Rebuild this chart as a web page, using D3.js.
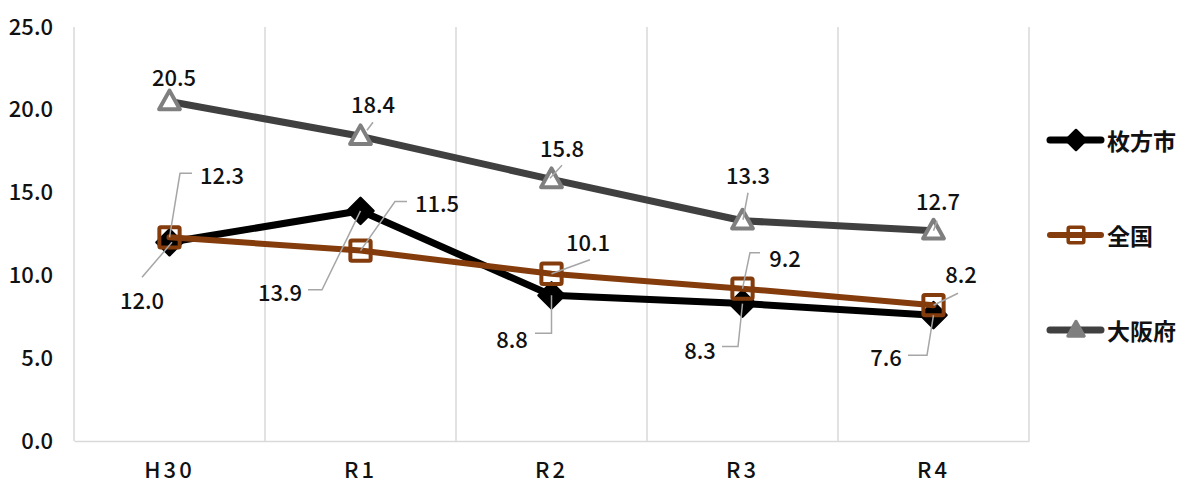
<!DOCTYPE html>
<html>
<head>
<meta charset="utf-8">
<script src="https://cdn.jsdelivr.net/npm/d3@7"></script>
<style>
  html, body { margin: 0; padding: 0; background: #fff; }
  svg { display: block; }
  text { font-family: "Noto Sans CJK JP", "Noto Sans", sans-serif; }
</style>
</head>
<body>
<svg id="chart" width="1181" height="484"></svg>
<script>
// ---- data ----
const categories = ["H30", "R1", "R2", "R3", "R4"];
const hirakata = [12.0, 13.9, 8.8, 8.3, 7.6];   // 枚方市
const zenkoku  = [12.3, 11.5, 10.1, 9.2, 8.2];  // 全国
const osaka    = [20.5, 18.4, 15.8, 13.3, 12.7]; // 大阪府
const seriesNames = ["枚方市", "全国", "大阪府"];
const yTicks = [0, 5, 10, 15, 20, 25];

// ---- label layout (text offset from point, leader vertices) ----
const labelLayout = {
  "枚方市": [
    { t: [-27.5, 57], l: [[2.5, 0], [-27.5, 35]] },
    { t: [-80.5, 80], l: [[0, 0], [-38.5, 79], [-52.5, 79]] },
    { t: [-39.5, 43], l: [[0, 0], [0, 38], [-16.5, 38]] },
    { t: [-42.5, 45], l: [[0, 0], [-4.5, 43], [-20.5, 43]] },
    { t: [-47.5, 41], l: [[0, 0], [-6.5, 40], [-25.5, 40]] }
  ],
  "全国": [
    { t: [52.5, -63], l: [[0, 0], [10.5, -64], [22.5, -64]] },
    { t: [76.5, -49], l: [[0, 0], [34.5, -49], [46.5, -49]] },
    { t: [36.5, -33], l: [[0, 0], [38.5, -14]] },
    { t: [42.5, -32], l: [[0, 0], [7.5, -36], [17.5, -36]] },
    { t: [27.5, -32], l: [[0, 0], [24.5, -12]] }
  ],
  "大阪府": [
    { t: [4.5, -25.5], l: null },
    { t: [12.5, -33], l: [[6.5, -6], [12.5, -14]] },
    { t: [10.5, -32], l: [[-1.5, -1], [10.5, -14]] },
    { t: [5.5, -47], l: [[0.5, -1], [5.5, -28]] },
    { t: [4.5, -31], l: [[0, 0], [3.5, -10]] }
  ]
};

const series = [
  { name: seriesNames[0], values: hirakata, line: "#000000", marker: "diamond", mStroke: "#000000", mFill: "#000000", width: 7 },
  { name: seriesNames[1], values: zenkoku,  line: "#843C0C", marker: "square",  mStroke: "#843C0C", mFill: "none",    width: 6 },
  { name: seriesNames[2], values: osaka,    line: "#404040", marker: "triangle",mStroke: "#7F7F7F", mFill: "#ffffff", width: 7 }
];

// ---- layout ----
const svg = d3.select("#chart");
const pLeft = 74, pRight = 1029, pTop = 27, pBottom = 441;

const x = d3.scaleBand().domain(categories).range([pLeft, pRight]).padding(0);
const y = d3.scaleLinear().domain([0, 25]).range([pBottom, pTop]);
const cx = d => x(d) + x.bandwidth() / 2;

// vertical gridlines at band boundaries
const bounds = categories.map(c => x(c)).concat([pRight]);
svg.append("g").selectAll("line").data(bounds).join("line")
  .attr("x1", d => d).attr("x2", d => d)
  .attr("y1", pTop).attr("y2", pBottom)
  .attr("stroke", "#d9d9d9").attr("stroke-width", 1.5);

// x axis
const xAxis = svg.append("g").attr("transform", `translate(0,${pBottom})`)
  .call(d3.axisBottom(x).tickSize(0).tickPadding(21));
xAxis.select(".domain").attr("stroke", "#d9d9d9").attr("stroke-width", 1.5);
xAxis.selectAll("text")
  .attr("font-size", 22).attr("font-weight", 500).attr("fill", "#111")
  .attr("letter-spacing", "3px")
  .attr("font-family", "'Noto Sans CJK JP', sans-serif");

// y axis labels
const yAxis = svg.append("g").attr("transform", `translate(${pLeft},0)`)
  .call(d3.axisLeft(y).tickValues(yTicks).tickFormat(d3.format(".1f")).tickSize(0).tickPadding(21));
yAxis.select(".domain").remove();
yAxis.selectAll("text")
  .attr("font-size", 22).attr("font-weight", 500).attr("fill", "#111")
  .attr("font-family", "'Noto Sans CJK JP', sans-serif");

// marker drawing
function drawMarker(g, type, px, py, s, stroke, fill, sw) {
  if (type === "diamond") {
    g.append("path")
      .attr("d", `M${px},${py - s}L${px + s},${py}L${px},${py + s}L${px - s},${py}Z`)
      .attr("fill", fill).attr("stroke", stroke).attr("stroke-width", 2.5).attr("stroke-linejoin", "round");
  } else if (type === "square") {
    const h = s * 0.78;
    g.append("rect").attr("x", px - h).attr("y", py - h).attr("width", 2 * h).attr("height", 2 * h)
      .attr("fill", fill).attr("stroke", stroke).attr("stroke-width", sw).attr("rx", 1.5);
  } else {
    const h = s * 0.8;
    g.append("path")
      .attr("d", `M${px},${py - h * 1.05}L${px + h},${py + h * 0.75}L${px - h},${py + h * 0.75}Z`)
      .attr("fill", fill).attr("stroke", stroke).attr("stroke-width", sw).attr("stroke-linejoin", "round");
  }
}

const lineGen = d3.line().x((d, i) => cx(categories[i])).y(d => y(d));

series.forEach(s => {
  const g = svg.append("g");
  g.append("path").datum(s.values)
    .attr("d", lineGen).attr("fill", "none")
    .attr("stroke", s.line).attr("stroke-width", s.width)
    .attr("stroke-linejoin", "round").attr("stroke-linecap", "round");
  s.values.forEach((v, i) => {
    drawMarker(g, s.marker, cx(categories[i]), y(v), 13, s.mStroke, s.mFill, 4);
  });
});

// leader lines and labels
const lg = svg.append("g");
series.forEach(s => {
  s.values.forEach((v, i) => {
    const px = cx(categories[i]), py = y(v);
    const L = labelLayout[s.name][i];
    if (L.l) {
      lg.append("path")
        .attr("d", d3.line()(L.l.map(p => [px + p[0], py + p[1]])))
        .attr("fill", "none").attr("stroke", "#a6a6a6").attr("stroke-width", 1.5);
    }
  });
});
series.forEach(s => {
  s.values.forEach((v, i) => {
    const px = cx(categories[i]), py = y(v);
    const L = labelLayout[s.name][i];
    lg.append("text")
      .attr("x", px + L.t[0]).attr("y", py + L.t[1])
      .attr("text-anchor", "middle").attr("dominant-baseline", "central")
      .attr("font-size", 22).attr("font-weight", 500).attr("fill", "#111")
      .text(d3.format(".1f")(v));
  });
});

// legend
const legendY = [140, 235, 330];
const leg = svg.append("g");
series.forEach((s, i) => {
  const ly = legendY[i];
  leg.append("line").attr("x1", 1050).attr("x2", 1101).attr("y1", ly).attr("y2", ly)
    .attr("stroke", s.line).attr("stroke-width", s.width).attr("stroke-linecap", "round");
  drawMarker(leg, s.marker, 1076, ly, 10, s.mStroke, s.marker === "triangle" ? "#7F7F7F" : s.mFill, 3.5);
  leg.append("text").attr("x", 1107).attr("y", ly)
    .attr("dominant-baseline", "central")
    .attr("font-size", 23).attr("font-weight", 700).attr("fill", "#111")
    .text(s.name);
});
</script>
</body>
</html>
